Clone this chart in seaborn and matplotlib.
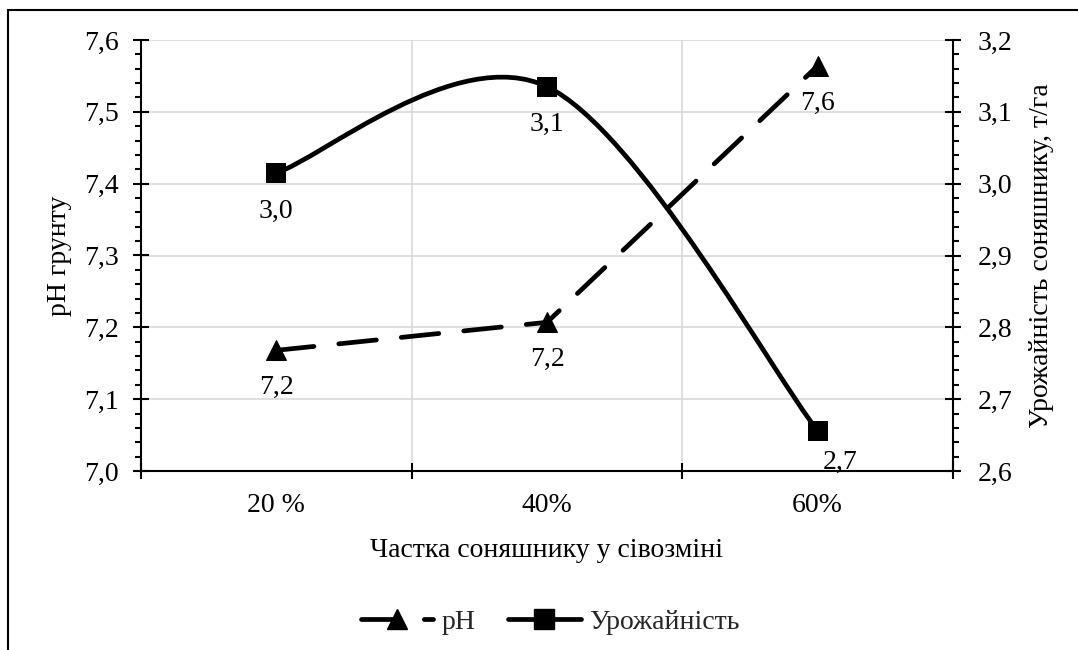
import numpy as np
import matplotlib
matplotlib.use("Agg")
import matplotlib.pyplot as plt
from matplotlib.path import Path
from matplotlib.patches import PathPatch, Rectangle
from matplotlib.lines import Line2D
from matplotlib.ticker import FuncFormatter, MultipleLocator, FixedLocator
import seaborn as sns

# Data
categories = ["20 %", "40%", "60%"]
ph_values = [7.168, 7.207, 7.564]
yield_values = [3.015, 3.135, 2.656]

sns.set_theme(style="white")
plt.rcParams["font.family"] = ["Liberation Serif", "DejaVu Serif"]

FS = 20
LW = 3.4
INK = "black"
GRID = "#d9d9d9"


def comma(v, _pos=None):
    return f"{v:.1f}".replace(".", ",")


fig = plt.figure(figsize=(10.78, 6.5), dpi=100)
ax = fig.add_axes([141 / 1078, 1 - 471 / 650, (953 - 141) / 1078, (471 - 40) / 650])
ax2 = ax.twinx()

xpos = np.arange(len(categories))

# pH series: dashed line with triangle markers (left axis)
sns.lineplot(x=xpos, y=ph_values, ax=ax, color=INK, linewidth=LW,
             linestyle=(0, (8, 5.3)), dash_capstyle="round",
             marker="^", markersize=15, markeredgecolor=INK,
             sort=False, zorder=4)

# Yield series: smoothed curve through the points (right axis)
pts = np.column_stack([xpos, yield_values]).astype(float)
ext = np.vstack([pts[0], pts, pts[-1]])
verts = [tuple(pts[0])]
codes = [Path.MOVETO]
for i in range(len(pts) - 1):
    p_prev, p0, p1, p_next = ext[i], ext[i + 1], ext[i + 2], ext[i + 3]
    c1 = p0 + (p1 - p_prev) / 6.0
    c2 = p1 - (p_next - p0) / 6.0
    verts += [tuple(c1), tuple(c2), tuple(p1)]
    codes += [Path.CURVE4] * 3
ax2.add_patch(PathPatch(Path(verts, codes), facecolor="none", edgecolor=INK,
                        linewidth=LW, capstyle="round", zorder=4))
sns.scatterplot(x=xpos, y=yield_values, ax=ax2, marker="s", s=200,
                color=INK, edgecolor=INK, linewidth=0, zorder=5, legend=False)

# Axis limits and ticks
ax.set_xlim(-0.5, len(categories) - 0.5)
ax.set_ylim(7.0, 7.6)
ax2.set_ylim(2.6, 3.2)

ax.yaxis.set_major_locator(MultipleLocator(0.1))
ax.yaxis.set_minor_locator(MultipleLocator(0.02))
ax2.yaxis.set_major_locator(MultipleLocator(0.1))
ax2.yaxis.set_minor_locator(MultipleLocator(0.02))
ax.yaxis.set_major_formatter(FuncFormatter(comma))
ax2.yaxis.set_major_formatter(FuncFormatter(comma))

ax.xaxis.set_major_locator(FixedLocator(np.arange(-0.5, len(categories), 1.0)))
ax.xaxis.set_minor_locator(FixedLocator(xpos))
ax.xaxis.set_major_formatter(plt.NullFormatter())
ax.xaxis.set_minor_formatter(FuncFormatter(lambda v, p: categories[int(round(v))]))

ax.tick_params(axis="y", which="major", direction="inout", length=12, width=1.5,
               colors=INK, labelsize=FS, pad=10)
ax.tick_params(axis="y", which="minor", direction="out", length=4, width=1.5, colors=INK, left=True)
ax2.tick_params(axis="y", which="major", direction="inout", length=12, width=1.5,
                colors=INK, labelsize=FS, pad=12)
ax2.tick_params(axis="y", which="minor", direction="out", length=4, width=1.5, colors=INK, right=True)
ax.tick_params(axis="x", which="major", direction="inout", length=12, width=1.5, colors=INK, bottom=True)
ax.tick_params(axis="x", which="minor", length=0, labelsize=FS, pad=16, colors=INK)

# Gridlines
for v in np.arange(7.1, 7.61, 0.1):
    ax.axhline(v, color=GRID, linewidth=1.2, zorder=0)
for b in [0.5, 1.5]:
    ax.axvline(b, color=GRID, linewidth=1.2, zorder=0)

for a in (ax, ax2):
    a.spines["top"].set_visible(False)
    for s in ("left", "right", "bottom"):
        a.spines[s].set_color(INK)
        a.spines[s].set_linewidth(1.5)
ax.spines["right"].set_visible(False)
ax2.spines["left"].set_visible(False)
ax2.spines["bottom"].set_visible(False)

ax.set_ylabel("pH грунту", fontsize=FS, color=INK, labelpad=9)
ax2.set_ylabel("Урожайність соняшнику, т/га", fontsize=FS, color=INK, labelpad=12)
ax.set_xlabel("Частка соняшнику у сівозміні", fontsize=FS, color=INK, labelpad=14)

# Data labels
for x, v in zip(xpos, ph_values):
    ax.annotate(comma(v), (x, v), xytext=(0, -27), textcoords="offset points",
                ha="center", va="center", fontsize=FS, color=INK, zorder=6)
yield_offsets = [(0, -28), (0, -27), (16, -23)]
for (x, v), off in zip(zip(xpos, yield_values), yield_offsets):
    ax2.annotate(comma(v), (x, v), xytext=off, textcoords="offset points",
                 ha="center", va="center", fontsize=FS, color=INK, zorder=6)

# Legend
handles = [
    Line2D([], [], color=INK, linewidth=LW, linestyle=(0, (8, 5.3)),
           dash_capstyle="round", marker="^", markersize=15),
    Line2D([], [], color=INK, linewidth=LW, solid_capstyle="round",
           marker="s", markersize=14),
]
fig.legend(handles, ["pH", "Урожайність"], loc="center",
           bbox_to_anchor=(550 / 1078, 1 - 622 / 650), ncol=2, frameon=False,
           fontsize=FS, handlelength=2.6, handletextpad=0.3, columnspacing=1.2)

# Outer chart frame
fig.patches.append(Rectangle((8 / 1078, -0.2), 1.5, 1 - 10 / 650 + 0.2,
                             transform=fig.transFigure, fill=False,
                             edgecolor=INK, linewidth=1.5, clip_on=False))

fig.savefig("out.png", dpi=100)
